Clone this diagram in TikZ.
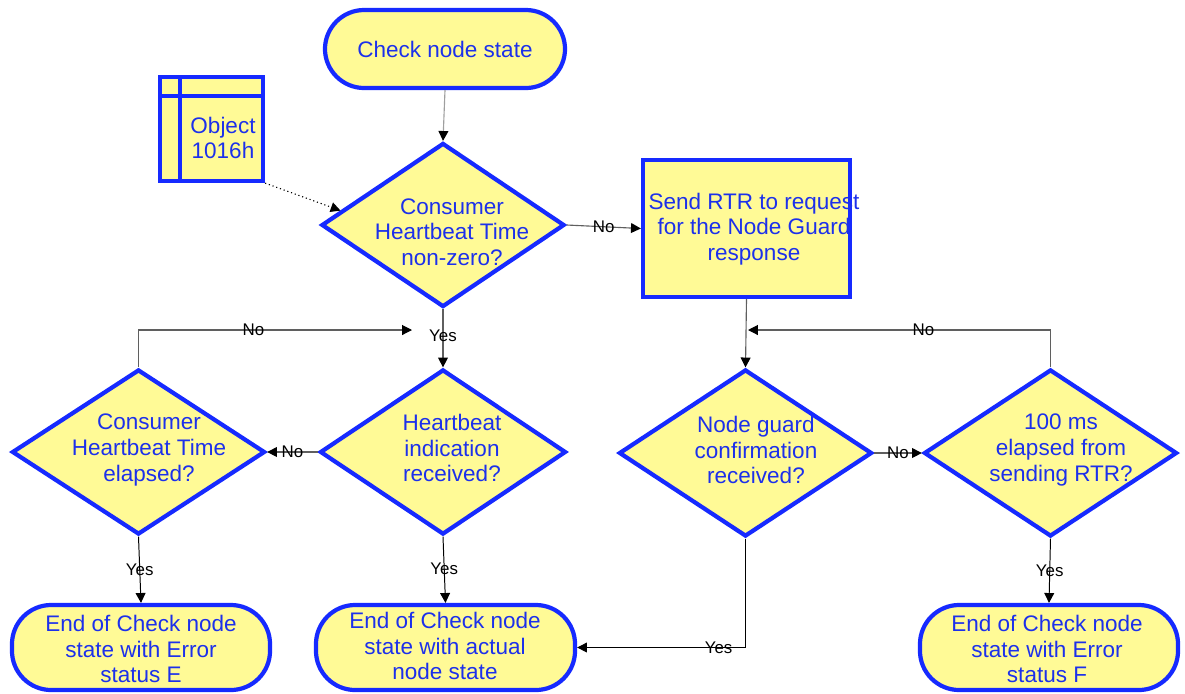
\documentclass[tikz,border=0pt]{standalone}
\usepackage{fontspec}
\setmainfont{Liberation Sans}
\usetikzlibrary{shapes.geometric,arrows.meta}
\definecolor{boxfill}{RGB}{255,250,150}
\definecolor{boxline}{RGB}{22,42,255}
\definecolor{boxtext}{RGB}{28,48,235}
\definecolor{wire}{RGB}{95,95,95}
\tikzset{
  x=0.025cm, y=-0.025cm,
  shapebase/.style={draw=boxline, fill=boxfill, line width=3pt, inner sep=0pt},
  terminal/.style={shapebase, rectangle, rounded corners=0.98cm},
  decision/.style={shapebase, diamond},
  process/.style={shapebase, rectangle},
  txt/.style={text=boxtext, align=center, font=\fontsize{16}{18.2}\selectfont, inner sep=0pt},
  lbl/.style={text=black, font=\fontsize{12}{14}\selectfont, inner sep=0pt},
  tip/.style={-{Triangle[length=7pt,width=7pt,color=black,fill=black]}},
  flow/.style={draw=wire, line width=0.8pt, tip},
  flowdark/.style={draw=black, line width=0.7pt, tip},
}
\begin{document}
\begin{tikzpicture}
\useasboundingbox (0,0) rectangle (1185,693);

% start terminal
\node[terminal, minimum width=6cm, minimum height=1.95cm] (start) at (445,49) {};
\node[txt] at (start) {Check node state};

% object dictionary entry
\node[process, minimum width=2.575cm, minimum height=2.6cm] (obj) at (211.5,129) {};
\draw[draw=boxline, line width=3pt] (180,77) -- (180,181);
\draw[draw=boxline, line width=3pt] (160,96) -- (263,96);
\node[txt] at (223,138) {Object\\1016h};

% decisions
\node[decision, minimum width=6.075cm, minimum height=4.1cm] (d1) at (443,225) {};
\node[txt] at (452,232) {Consumer\\Heartbeat Time\\non-zero?};

\node[decision, minimum width=6.15cm, minimum height=4.125cm] (d2) at (443,452) {};
\node[txt] at (452,448) {Heartbeat\\indication\\received?};

\node[decision, minimum width=6.325cm, minimum height=4.125cm] (d3) at (138.5,452) {};
\node[txt] at (149,450) {Consumer\\Heartbeat Time\\elapsed?};

\node[decision, minimum width=6.325cm, minimum height=4.175cm] (d4) at (745.5,453) {};
\node[txt] at (756,450) {Node guard\\confirmation\\received?};

\node[decision, minimum width=6.325cm, minimum height=4.175cm] (d5) at (1050.5,453) {};
\node[txt] at (1061,450) {100 ms\\elapsed from\\sending RTR?};

% RTR request box
\node[process, minimum width=5.175cm, minimum height=3.425cm] (rtr) at (746.5,228.5) {};
\node[txt] at (754,229) {Send RTR to request\\for the Node Guard\\response};

% end terminals
\node[terminal, minimum width=6.45cm, minimum height=2.125cm] (endE) at (141,647.5) {};
\node[txt] at (141,649) {End of Check node\\state with Error\\status E};

\node[terminal, minimum width=6.475cm, minimum height=2.125cm] (endA) at (445.5,647.5) {};
\node[txt] at (445,646) {End of Check node\\state with actual\\node state};

\node[terminal, minimum width=6.45cm, minimum height=2.125cm] (endF) at (1049,647.5) {};
\node[txt] at (1047,649) {End of Check node\\state with Error\\status F};

% loop-back points
\coordinate (loopL) at (412,330);
\coordinate (loopR) at (748,330);

% connectors
\draw[flow, draw=wire!60] (start.south) -- (d1.north);
\draw[draw=black, line width=0.8pt, dotted, tip] (obj.south east) -- (d1.172);

\draw[flow] (d1.east) -- node[lbl] {No} (rtr.west);
\draw[flow] (d1.south) -- node[lbl, pos=0.46] {Yes} (d2.north);

\draw[flow] (d2.west) -- node[lbl] {No} (d3.east);
\draw[flow] (d3.north) |- node[lbl, pos=0.71] {No} (loopL);

\draw[flowdark] (d3.south) -- node[lbl, pos=0.5] {Yes} (endE.north);
\draw[flowdark] (d2.south) -- node[lbl, pos=0.49] {Yes} (endA.north);

\draw[flow] (rtr.south) -- (d4.north);
\draw[flow] (d5.north) |- node[lbl, pos=0.71] {No} (loopR);

\draw[flow] (d4.east) -- node[lbl] {No} (d5.west);
\draw[flowdark] (d4.south) |- node[lbl, pos=0.58] {Yes} (endA.east);
\draw[flowdark] (d5.south) -- node[lbl, pos=0.5] {Yes} (endF.north);
\end{tikzpicture}
\end{document}
